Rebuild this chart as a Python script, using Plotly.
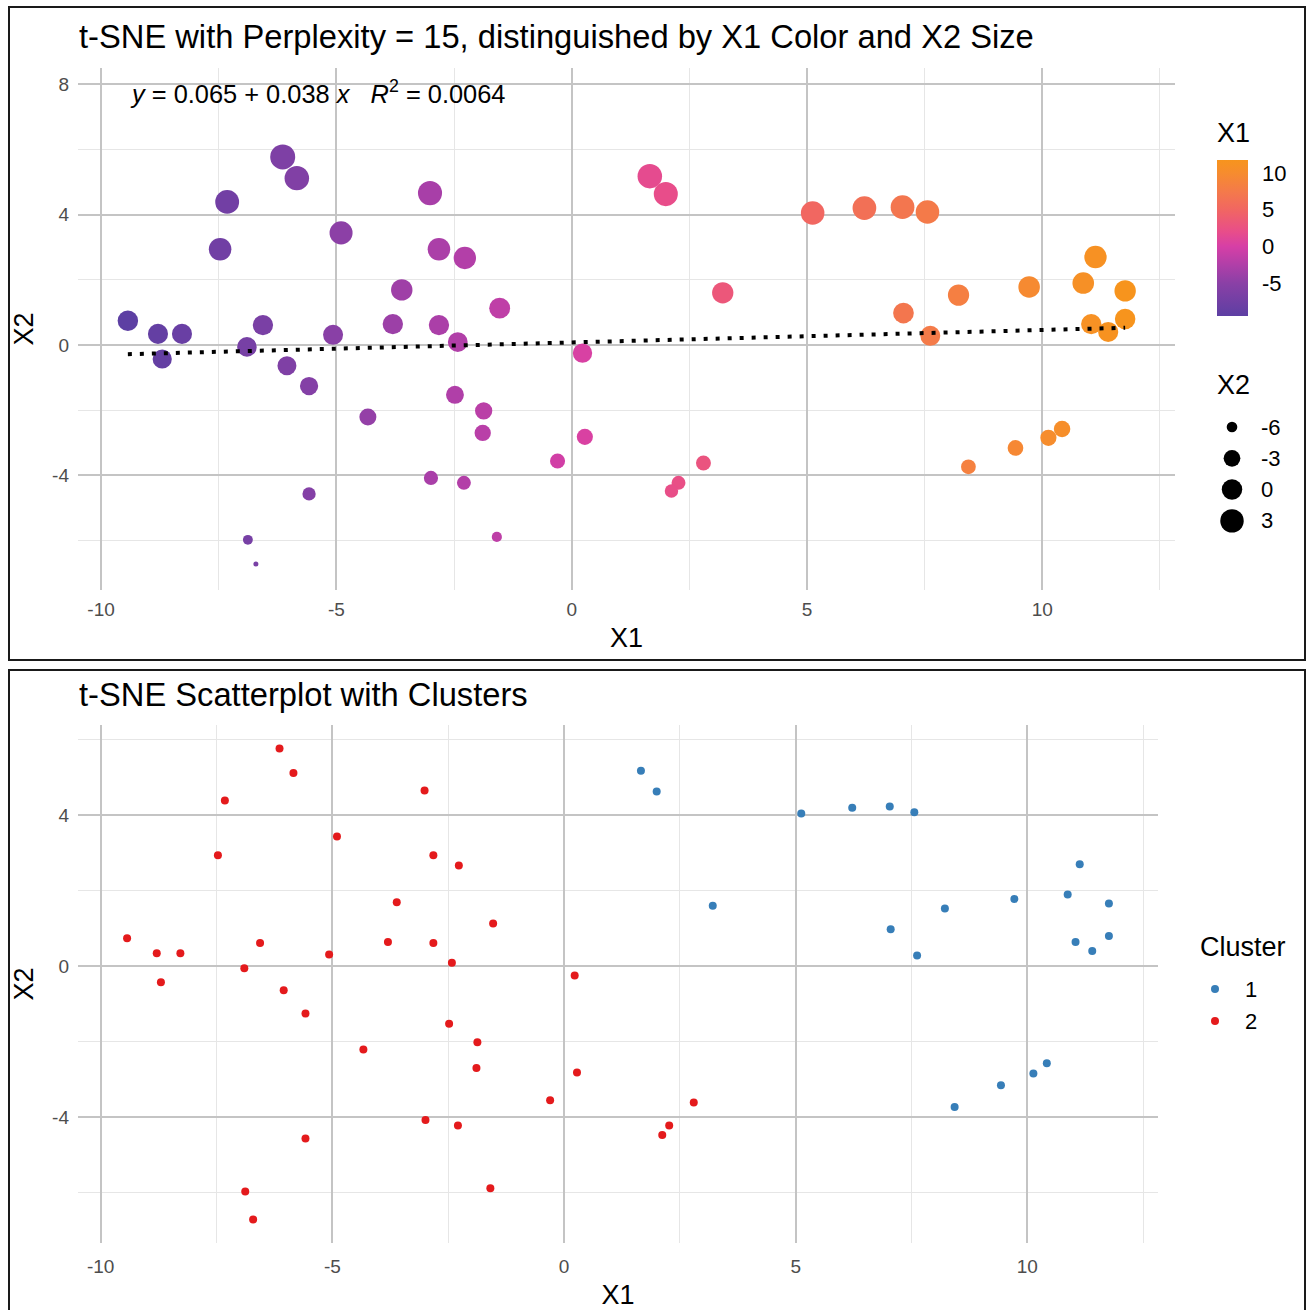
import numpy as np
import plotly.graph_objects as go

# ---------------- data ----------------
X1 = [-9.43, -8.79, -8.28, -8.70, -7.47, -7.32, -6.56, -6.90, -6.14, -5.84,
      -6.05, -5.58, -4.90, -5.07, -4.33, -3.80, -3.61, -3.01, -2.82, -2.82,
      -2.27, -2.42, -2.48, -1.87, -1.89, -1.53, -2.99, -2.29, -5.58, -6.88,
      -6.71, -1.59, 0.23, 0.28, -0.30, 1.66, 2.00, 3.21, 2.80, 2.27,
      2.12, 5.12, 6.22, 7.03, 7.56, 7.05, 7.62, 8.22, 8.43, 9.43,
      9.72, 10.13, 10.42, 10.87, 11.13, 11.04, 11.40, 11.76, 11.76]
X2 = [0.74, 0.34, 0.34, -0.43, 2.94, 4.39, 0.61, -0.06, 5.77, 5.12,
      -0.64, -1.26, 3.44, 0.31, -2.21, 0.64, 1.69, 4.66, 2.94, 0.61,
      2.67, 0.09, -1.53, -2.02, -2.70, 1.13, -4.08, -4.23, -4.57, -5.98,
      -6.72, -5.89, -0.25, -2.82, -3.56, 5.18, 4.63, 1.60, -3.62, -4.23,
      -4.48, 4.05, 4.20, 4.23, 4.08, 0.98, 0.28, 1.53, -3.74, -3.16,
      1.78, -2.85, -2.58, 1.90, 2.70, 0.64, 0.40, 1.66, 0.80]
CLUSTER = ["2"] * 35 + ["1", "1", "1", "2", "2", "2"] + ["1"] * 18

SIZE_LEGEND_VALUES = [-6, -3, 0, 3]
COLORBAR_TICKS = [-5, 0, 5, 10]
X_TICKS = [-10, -5, 0, 5, 10]
X_MINOR = [-7.5, -2.5, 2.5, 7.5, 12.5]
Y_TICKS_TOP = [-4, 0, 4, 8]
Y_TICKS_BOTTOM = [-4, 0, 4]
Y_MINOR = [-6, -2, 2, 6]
CLUSTER_LEVELS = ["1", "2"]
CLUSTER_COLORS = {"1": "#377EB8", "2": "#E41A1C"}

TITLE_TOP = "t-SNE with Perplexity = 15, distinguished by X1 Color and X2 Size"
TITLE_BOTTOM = "t-SNE Scatterplot with Clusters"
EQ_LABEL = "<i>y</i> = 0.065 + 0.038 <i>x</i>   <i>R</i><sup>2</sup> = 0.0064"

# ---------------- helpers ----------------
W, H = 1308, 1310
FONT = "Liberation Sans, Arial, sans-serif"


def px_x(p):
    return p / W


def px_y(p):
    return 1 - p / H


def lab(v):
    return str(v).replace("\u2212", "-")


x1 = np.array(X1)
x2 = np.array(X2)
vmin, vmax = x2.min(), x2.max()
D_MIN, D_MAX = 5.0, 25.0


def size_of(v):
    frac = np.clip((np.asarray(v, dtype=float) - vmin) / (vmax - vmin), 0, 1)
    return D_MIN + (D_MAX - D_MIN) * np.sqrt(frac)


cmin, cmax = x1.min(), x1.max()
color_stops = [(-9.43, "#5D3FA3"), (-5.0, "#8A40A6"), (-2.5, "#B03FA8"),
               (0.0, "#D63FA6"), (2.0, "#E84D8A"), (5.0, "#F16662"),
               (7.5, "#F47A4A"), (10.0, "#F68C2E"), (11.76, "#F7941D")]
colorscale = [[float(np.clip((v - cmin) / (cmax - cmin), 0, 1)), c] for v, c in color_stops]
colorscale[0][0] = 0.0
colorscale[-1][0] = 1.0

slope, intercept = np.polyfit(x1, x2, 1)
xl = np.array([x1.min(), x1.max()])
yl = intercept + slope * xl

fig = go.Figure()

# top panel: points
fig.add_trace(go.Scatter(
    x=X1, y=X2, mode="markers", xaxis="x", yaxis="y", showlegend=False,
    marker=dict(size=size_of(X2), sizemode="diameter", color=X1,
                coloraxis="coloraxis", line=dict(width=0), opacity=1),
    hoverinfo="skip"))

# regression line
fig.add_trace(go.Scatter(
    x=xl, y=yl, mode="lines", xaxis="x", yaxis="y", showlegend=False,
    line=dict(color="black", width=4, dash="4px,8px"), hoverinfo="skip"))

# bottom panel
for lvl in CLUSTER_LEVELS:
    xs = [a for a, c in zip(X1, CLUSTER) if c == lvl]
    ys = [b for b, c in zip(X2, CLUSTER) if c == lvl]
    fig.add_trace(go.Scatter(
        x=xs, y=ys, mode="markers", xaxis="x2", yaxis="y2", name=lvl,
        showlegend=False, hoverinfo="skip",
        marker=dict(size=8, color=CLUSTER_COLORS[lvl], line=dict(width=0), opacity=1)))

# ---- legend keys drawn on a hidden overlay axis (pixel coordinates) ----
SIZE_KEY_X, SIZE_KEY_Y0, KEY_STEP = 1232, 427, 31.3
CL_KEY_X, CL_KEY_Y0, CL_STEP = 1215, 989, 32
size_key_y = [SIZE_KEY_Y0 + i * KEY_STEP for i in range(len(SIZE_LEGEND_VALUES))]
cl_key_y = [CL_KEY_Y0 + i * CL_STEP for i in range(len(CLUSTER_LEVELS))]

fig.add_trace(go.Scatter(
    x=[SIZE_KEY_X] * len(SIZE_LEGEND_VALUES), y=size_key_y, mode="markers",
    xaxis="x3", yaxis="y3", showlegend=False, hoverinfo="skip",
    marker=dict(size=size_of(SIZE_LEGEND_VALUES) + 0.8, color="black",
                line=dict(width=0), opacity=1)))
fig.add_trace(go.Scatter(
    x=[CL_KEY_X] * len(CLUSTER_LEVELS), y=cl_key_y, mode="markers",
    xaxis="x3", yaxis="y3", showlegend=False, hoverinfo="skip",
    marker=dict(size=8, color=[CLUSTER_COLORS[c] for c in CLUSTER_LEVELS],
                line=dict(width=0), opacity=1)))

MAJOR = "#C4C4C4"
MINOR = "#E6E6E6"
TICKFONT = dict(family=FONT, size=19, color="#4D4D4D")
TITLEFONT = dict(family=FONT, size=27, color="black")


def xaxis_common(domain, rng, standoff, lstand):
    return dict(domain=domain, range=rng, tickmode="array", tickvals=X_TICKS,
                ticktext=[lab(v) for v in X_TICKS], showgrid=True,
                gridcolor=MAJOR, gridwidth=2.4, zeroline=False, showline=False,
                ticks="", tickfont=TICKFONT, ticklabelstandoff=lstand,
                minor=dict(tickmode="array", tickvals=X_MINOR, showgrid=True,
                           gridcolor=MINOR, gridwidth=1.2),
                title=dict(text="X1", font=TITLEFONT, standoff=standoff))


def yaxis_common(domain, rng, ticks):
    return dict(domain=domain, range=rng, tickmode="array", tickvals=ticks,
                ticktext=[lab(v) for v in ticks], showgrid=True,
                gridcolor=MAJOR, gridwidth=2.4, zeroline=False, showline=False,
                ticks="", tickfont=TICKFONT, ticklabelstandoff=8,
                minor=dict(tickmode="array", tickvals=Y_MINOR, showgrid=True,
                           gridcolor=MINOR, gridwidth=1.2),
                title=dict(text="X2", font=TITLEFONT, standoff=10))


xr = [cmin - 0.05 * (cmax - cmin), cmax + 0.05 * (cmax - cmin)]
y2r = [vmin - 0.05 * (vmax - vmin), vmax + 0.05 * (vmax - vmin)]

LEG_TITLE = dict(family=FONT, size=27, color="black")
LEG_LABEL = dict(family=FONT, size=22, color="black")

annotations = [
    dict(text=TITLE_TOP, xref="paper", yref="paper", x=px_x(77), y=px_y(37),
         xanchor="left", yanchor="middle", showarrow=False,
         font=dict(family=FONT, size=32.7, color="black")),
    dict(text=TITLE_BOTTOM, xref="paper", yref="paper", x=px_x(77), y=px_y(694),
         xanchor="left", yanchor="middle", showarrow=False,
         font=dict(family=FONT, size=32.7, color="black")),
    dict(text=EQ_LABEL, xref="x", yref="y", x=float(x1.min()), y=7.75,
         xanchor="left", yanchor="middle", showarrow=False,
         font=dict(family=FONT, size=25.4, color="black")),
    dict(text="X1", xref="paper", yref="paper", x=px_x(1215), y=px_y(133),
         xanchor="left", yanchor="middle", showarrow=False, font=LEG_TITLE),
    dict(text="X2", xref="paper", yref="paper", x=px_x(1215), y=px_y(385),
         xanchor="left", yanchor="middle", showarrow=False, font=LEG_TITLE),
    dict(text="Cluster", xref="paper", yref="paper", x=px_x(1198), y=px_y(947),
         xanchor="left", yanchor="middle", showarrow=False, font=LEG_TITLE),
]
for v, yy in zip(SIZE_LEGEND_VALUES, size_key_y):
    annotations.append(dict(text=lab(v), xref="paper", yref="paper", x=px_x(1259),
                            y=px_y(yy), xanchor="left", yanchor="middle",
                            showarrow=False, font=LEG_LABEL))
for c, yy in zip(CLUSTER_LEVELS, cl_key_y):
    annotations.append(dict(text=c, xref="paper", yref="paper", x=px_x(1243),
                            y=px_y(yy), xanchor="left", yanchor="middle",
                            showarrow=False, font=LEG_LABEL))

# colorbar geometry (pixels) and white inner tick marks like the reference
CB_L, CB_R, CB_TOP, CB_BOT = 1217, 1248, 160, 316
shapes = [
    dict(type="rect", xref="paper", yref="paper", x0=px_x(9), x1=px_x(1305),
         y0=px_y(660), y1=px_y(7), line=dict(color="#1A1A1A", width=2)),
    dict(type="rect", xref="paper", yref="paper", x0=px_x(9), x1=px_x(1305),
         y0=px_y(1320), y1=px_y(670), line=dict(color="#1A1A1A", width=2)),
]
for v in COLORBAR_TICKS:
    ty = CB_BOT - (v - cmin) / (cmax - cmin) * (CB_BOT - CB_TOP)
    for xa, xb in ((CB_L, CB_L + 6), (CB_R - 6, CB_R)):
        shapes.append(dict(type="line", xref="paper", yref="paper",
                           x0=px_x(xa), x1=px_x(xb), y0=px_y(ty), y1=px_y(ty),
                           line=dict(color="rgba(255,255,255,0.85)", width=1)))

fig.update_layout(
    width=W, height=H, margin=dict(l=0, r=0, t=0, b=0),
    paper_bgcolor="white", plot_bgcolor="white",
    font=dict(family=FONT, color="black"),
    showlegend=False,
    xaxis=dict(**xaxis_common([px_x(78), px_x(1175)], xr, 9, 6), anchor="y"),
    yaxis=dict(**yaxis_common([px_y(590), px_y(68)], [-7.52, 8.50], Y_TICKS_TOP), anchor="x"),
    xaxis2=dict(**xaxis_common([px_x(78), px_x(1158)], xr, 12, 10), anchor="y2"),
    yaxis2=dict(**yaxis_common([px_y(1243), px_y(725)], y2r, Y_TICKS_BOTTOM), anchor="x2"),
    xaxis3=dict(domain=[px_x(1180), 1.0], range=[1180, W], visible=False,
                anchor="y3", fixedrange=True),
    yaxis3=dict(domain=[0.0, 1.0], range=[H, 0], visible=False,
                anchor="x3", fixedrange=True),
    coloraxis=dict(
        colorscale=colorscale, cmin=cmin, cmax=cmax,
        colorbar=dict(
            x=px_x(CB_L), xanchor="left", xpad=0, y=px_y(CB_TOP), yanchor="top", ypad=0,
            len=CB_BOT - CB_TOP, lenmode="pixels", thickness=CB_R - CB_L,
            thicknessmode="pixels",
            outlinewidth=0, tickmode="array", tickvals=COLORBAR_TICKS,
            ticktext=[lab(v) for v in COLORBAR_TICKS], ticks="outside", ticklen=10,
            tickcolor="rgba(255,255,255,0)", tickwidth=1,
            tickfont=dict(family=FONT, size=22, color="black"))),
    annotations=annotations,
    shapes=shapes,
)

fig.write_html("out.html", config={"displayModeBar": False},
               post_script="document.body.style.margin='0px';")
